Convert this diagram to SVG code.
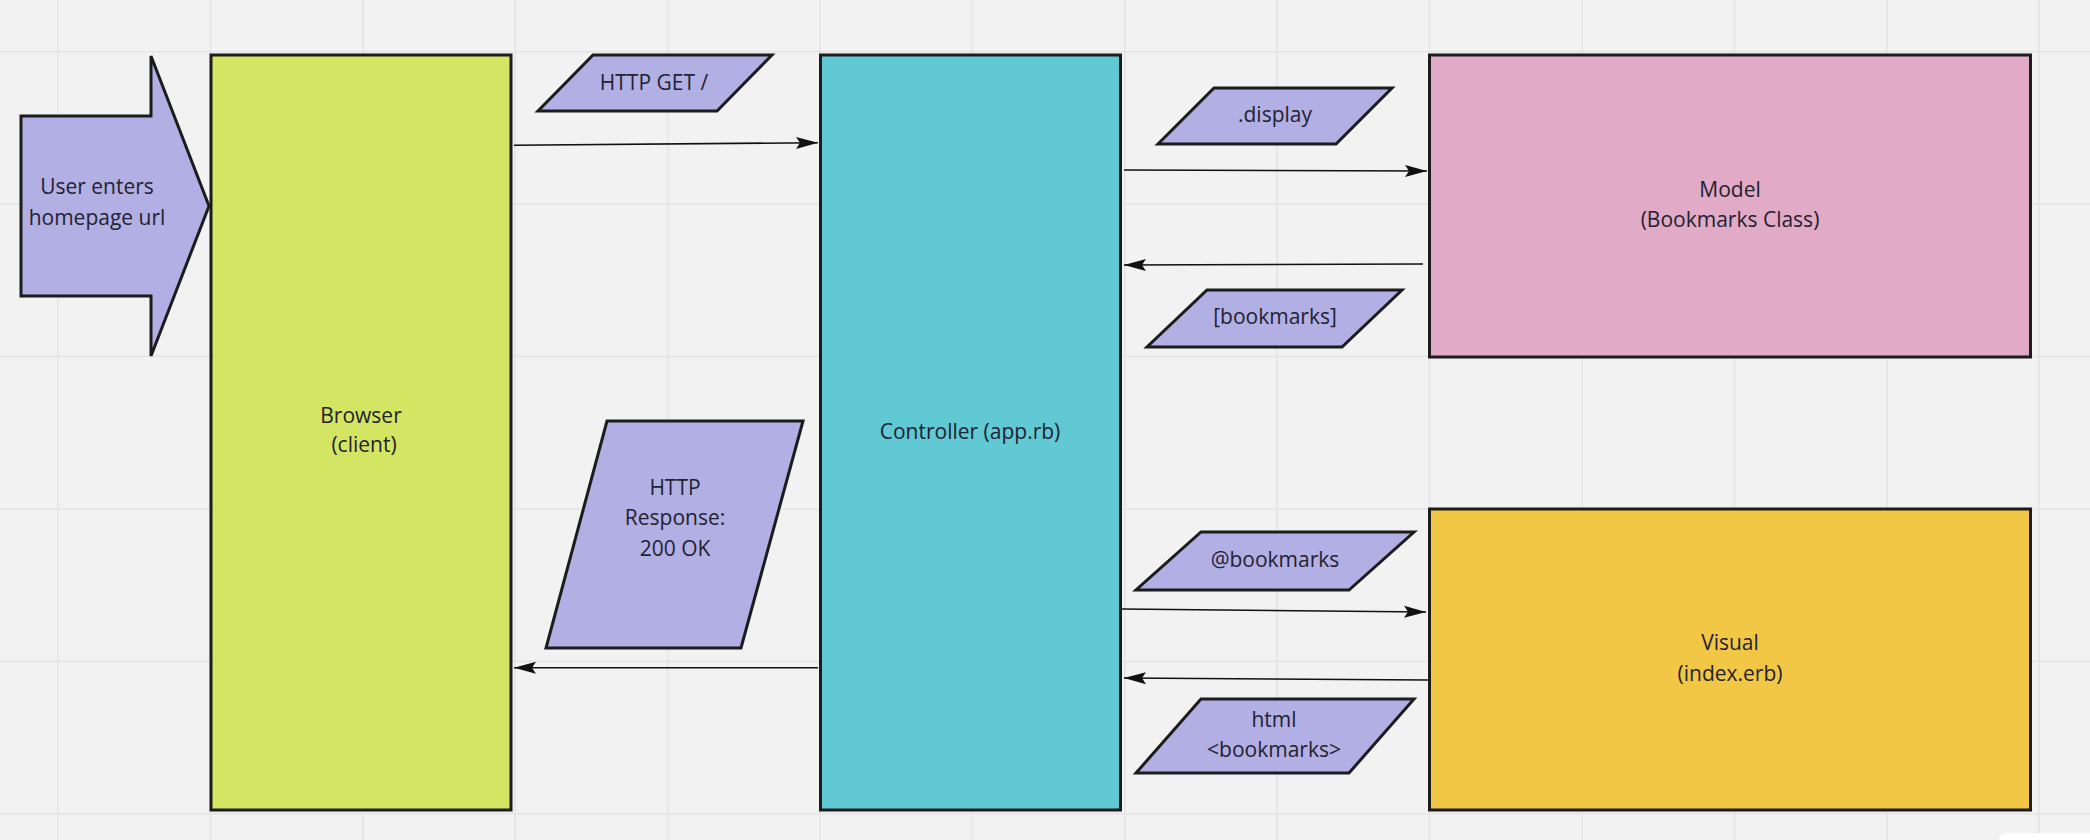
<svg xmlns="http://www.w3.org/2000/svg" width="2090" height="840" viewBox="0 0 2090 840">
  <style>
    .grid line { stroke: #e4e4e4; stroke-width: 1.5; }
    .shape { stroke: #1c1c1c; stroke-width: 3; stroke-linejoin: miter; }
    .purple { fill: #b2afe4; }
    .lbl { font-family: "Open Sans", "Noto Sans", "Liberation Sans", sans-serif; font-size: 21px; fill: #222230; text-anchor: middle; }
    .conn { stroke: #111; stroke-width: 1.6; fill: none; marker-end: url(#arrow); }
  </style>
  <defs>
    <marker id="arrow" markerUnits="userSpaceOnUse" markerWidth="24" markerHeight="14" refX="22" refY="7" orient="auto">
      <path d="M0,1 L22,7 L0,13 L4,7 z" fill="#111"/>
    </marker>
  </defs>
  <rect width="2090" height="840" fill="#f2f2f2"/>
  <g class="grid">
    <line x1="58" y1="0" x2="58" y2="840"/>
    <line x1="210.4" y1="0" x2="210.4" y2="840"/>
    <line x1="362.8" y1="0" x2="362.8" y2="840"/>
    <line x1="515.2" y1="0" x2="515.2" y2="840"/>
    <line x1="667.6" y1="0" x2="667.6" y2="840"/>
    <line x1="820" y1="0" x2="820" y2="840"/>
    <line x1="972.4" y1="0" x2="972.4" y2="840"/>
    <line x1="1124.8" y1="0" x2="1124.8" y2="840"/>
    <line x1="1277.2" y1="0" x2="1277.2" y2="840"/>
    <line x1="1429.6" y1="0" x2="1429.6" y2="840"/>
    <line x1="1582" y1="0" x2="1582" y2="840"/>
    <line x1="1734.4" y1="0" x2="1734.4" y2="840"/>
    <line x1="1886.8" y1="0" x2="1886.8" y2="840"/>
    <line x1="2039.2" y1="0" x2="2039.2" y2="840"/>
    <line x1="0" y1="51.7" x2="2090" y2="51.7"/>
    <line x1="0" y1="204.1" x2="2090" y2="204.1"/>
    <line x1="0" y1="356.5" x2="2090" y2="356.5"/>
    <line x1="0" y1="508.9" x2="2090" y2="508.9"/>
    <line x1="0" y1="661.3" x2="2090" y2="661.3"/>
    <line x1="0" y1="813.7" x2="2090" y2="813.7"/>
  </g>

  <g id="connectors">
    <path class="conn" d="M514,145.3 L818,142.7"/>
    <path class="conn" d="M818,667.7 L514,667.7"/>
    <path class="conn" d="M1124,170 L1427,171"/>
    <path class="conn" d="M1423,264 L1124,265"/>
    <path class="conn" d="M1122,609 L1426,612"/>
    <path class="conn" d="M1428,680 L1124,678"/>
  </g>

  <g id="user-input">
    <polygon class="shape purple" points="21,116 151,116 151,56 209,206 151,356 151,296 21,296"/>
    <text class="lbl" x="97" y="194">User enters</text>
    <text class="lbl" x="97" y="225">homepage url</text>
  </g>

  <g id="browser">
    <rect class="shape" x="211" y="55" width="300" height="755" fill="#d3e562"/>
    <text class="lbl" x="361" y="423">Browser</text>
    <text class="lbl" x="364" y="452">(client)</text>
  </g>

  <g id="controller">
    <rect class="shape" x="820.5" y="55" width="300" height="755" fill="#60c9d3"/>
    <text class="lbl" x="970" y="439">Controller (app.rb)</text>
  </g>

  <g id="model">
    <rect class="shape" x="1429.5" y="55" width="601" height="302" fill="#e1aac6"/>
    <text class="lbl" x="1730" y="197">Model</text>
    <text class="lbl" x="1730" y="227">(Bookmarks Class)</text>
  </g>

  <g id="visual">
    <rect class="shape" x="1429.5" y="509" width="601" height="301" fill="#f1c745"/>
    <text class="lbl" x="1730" y="650">Visual</text>
    <text class="lbl" x="1730" y="681">(index.erb)</text>
  </g>

  <g id="http-get">
    <polygon class="shape purple" points="593,55 772,55 717,111 538,111"/>
    <text class="lbl" x="654" y="90">HTTP GET /</text>
  </g>

  <g id="http-response">
    <polygon class="shape purple" points="607,421 803,421 741,648 546,648"/>
    <text class="lbl" x="675" y="495">HTTP</text>
    <text class="lbl" x="675" y="525">Response:</text>
    <text class="lbl" x="675" y="556">200 OK</text>
  </g>

  <g id="display">
    <polygon class="shape purple" points="1214,88 1392,88 1336,144 1158,144"/>
    <text class="lbl" x="1275" y="122">.display</text>
  </g>

  <g id="bookmarks-array">
    <polygon class="shape purple" points="1207,290 1402,290 1342,347 1147,347"/>
    <text class="lbl" x="1275" y="324">[bookmarks]</text>
  </g>

  <g id="at-bookmarks">
    <polygon class="shape purple" points="1201,532 1414,532 1349,590 1136,590"/>
    <text class="lbl" x="1275" y="567">@bookmarks</text>
  </g>

  <g id="html-bookmarks">
    <polygon class="shape purple" points="1201,699 1414,699 1349,773 1136,773"/>
    <text class="lbl" x="1274" y="727">html</text>
    <text class="lbl" x="1274" y="757">&lt;bookmarks&gt;</text>
  </g>

  <rect x="1999" y="833" width="120" height="30" rx="8" fill="#ffffff"/>
</svg>
